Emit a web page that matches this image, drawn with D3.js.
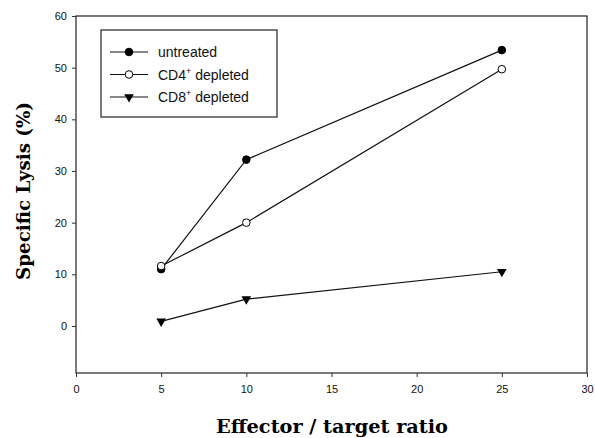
<!DOCTYPE html>
<html>
<head>
<meta charset="utf-8">
<script src="https://cdn.jsdelivr.net/npm/d3@7"></script>
<style>
  body { margin: 0; background: #fff; }
  svg { display: block; }
</style>
</head>
<body>
<div id="chart"></div>
<script>
// E:T ratios and lysis values
var ratios = [5, 10, 25];
var untreated = [11, 32.2, 53.4];
var cd4Depleted = [11.6, 20, 49.7];
var cd8Depleted = [0.9, 5.2, 10.5];
var xTicks = [0, 5, 10, 15, 20, 25, 30];
var yTicks = [0, 10, 20, 30, 40, 50, 60];

var seriesList = [
    { name: "untreated", sup: "", values: untreated, marker: "filled" },
    { name: "CD4", sup: "+", values: cd4Depleted, marker: "open" },
    { name: "CD8", sup: "+", values: cd8Depleted, marker: "triangle" }
];

var margin = { top: 16, right: 8, bottom: 65, left: 76 },
    width = 595 - margin.left - margin.right,
    height = 438 - margin.top - margin.bottom;

var svg = d3.select("#chart")
    .append("svg")
    .attr("width", 595)
    .attr("height", 438)
    .append("g")
    .attr("transform", "translate(" + margin.left + "," + margin.top + ")");

var x = d3.scaleLinear().domain([0, 30]).range([0, width]);
var y = d3.scaleLinear().domain([-9.1, 60]).range([height, 0]);

// frame
svg.append("rect")
    .attr("x", 0).attr("y", 0)
    .attr("width", width).attr("height", height)
    .attr("fill", "none")
    .attr("stroke", "#222")
    .attr("stroke-width", 1.2);

// axes
var xAxis = svg.append("g")
    .attr("transform", "translate(0," + height + ")")
    .call(d3.axisBottom(x).tickValues(xTicks).tickSize(4).tickPadding(8));
var yAxis = svg.append("g")
    .call(d3.axisLeft(y).tickValues(yTicks).tickSize(4).tickPadding(5));

[xAxis, yAxis].forEach(function (a) {
    a.select(".domain").remove();
    a.selectAll("line").attr("stroke", "#333");
    a.selectAll("text")
        .style("font-family", "'Liberation Sans', Arial, sans-serif")
        .style("font-size", "11px")
        .attr("fill", "#111");
});

// axis titles (wide bold serif, like Century Schoolbook)
svg.append("text")
    .attr("x", 332 - margin.left)
    .attr("y", 433 - margin.top)
    .attr("text-anchor", "middle")
    .attr("textLength", 232)
    .attr("lengthAdjust", "spacingAndGlyphs")
    .style("font-family", "'DejaVu Serif', serif")
    .style("font-weight", "bold")
    .style("font-size", "18px")
    .text("Effector / target ratio");

svg.append("text")
    .attr("transform", "translate(" + (30 - margin.left) + "," + (191 - margin.top) + ") rotate(-90)")
    .attr("text-anchor", "middle")
    .attr("textLength", 178)
    .attr("lengthAdjust", "spacingAndGlyphs")
    .style("font-family", "'DejaVu Serif', serif")
    .style("font-weight", "bold")
    .style("font-size", "18px")
    .text("Specific Lysis (%)");

var triangle = d3.symbol().type(d3.symbolTriangle).size(40);

function drawMarker(g, kind) {
    if (kind === "triangle") {
        g.append("path")
            .attr("d", triangle)
            .attr("transform", "rotate(180)")
            .attr("fill", "#000");
    } else {
        g.append("circle")
            .attr("r", 3.8)
            .attr("fill", kind === "filled" ? "#000" : "#fff")
            .attr("stroke", "#000")
            .attr("stroke-width", 1);
    }
}

var line = d3.line()
    .x(function (d) { return x(d.r); })
    .y(function (d) { return y(d.v); });

seriesList.forEach(function (s) {
    var pts = ratios.map(function (r, i) { return { r: r, v: s.values[i] }; });
    svg.append("path")
        .datum(pts)
        .attr("fill", "none")
        .attr("stroke", "#111")
        .attr("stroke-width", 1.2)
        .attr("d", line);
    svg.append("g")
        .selectAll("g")
        .data(pts)
        .enter()
        .append("g")
        .attr("transform", function (d) { return "translate(" + x(d.r) + "," + y(d.v) + ")"; })
        .each(function () { drawMarker(d3.select(this), s.marker); });
});

// legend
var legend = svg.append("g").attr("transform", "translate(25,14)");
legend.append("rect")
    .attr("width", 176).attr("height", 87)
    .attr("fill", "#fff")
    .attr("stroke", "#222")
    .attr("stroke-width", 1.2);

seriesList.forEach(function (s, i) {
    var row = legend.append("g").attr("transform", "translate(0," + (22 + i * 22.5) + ")");
    row.append("line")
        .attr("x1", 9).attr("x2", 47)
        .attr("stroke", "#111").attr("stroke-width", 1.2);
    drawMarker(row.append("g").attr("transform", "translate(28,0)"), s.marker);
    var t = row.append("text")
        .attr("x", 57).attr("y", 5)
        .style("font-family", "'Liberation Sans', Arial, sans-serif")
        .style("font-size", "14px")
        .attr("fill", "#111");
    t.append("tspan").text(s.name);
    if (s.sup) {
        t.append("tspan").attr("dy", -6).style("font-size", "9px").text(s.sup);
        t.append("tspan").attr("dy", 6).text(" depleted");
    }
});
</script>
</body>
</html>
